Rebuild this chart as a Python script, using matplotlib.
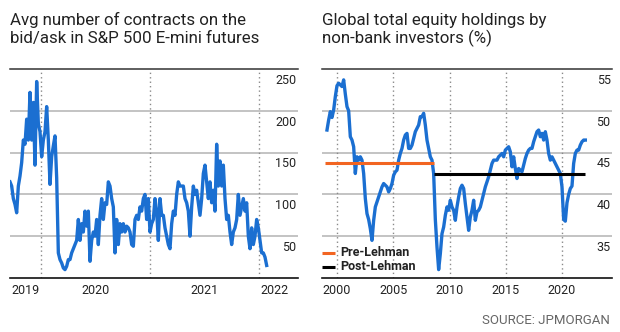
import matplotlib
matplotlib.use("Agg")
import matplotlib.pyplot as plt
import numpy as np
import pandas as pd

# ---- data ----
contracts_start = "2019-09-19"
contracts_end = "2022-01-26"
contracts = [115, 110, 95, 88, 78, 110, 122, 138, 165, 160, 190, 165, 222, 165, 210, 135,
             235, 185, 175, 145, 165, 175, 205, 165, 112, 145, 158, 170, 120, 30, 22, 18,
             12, 10, 14, 22, 22, 30, 35, 40, 45, 70, 45, 65, 55, 80, 62, 80, 20, 45, 55, 50,
             70, 40, 75, 95, 70, 90, 88, 115, 110, 95, 85, 30, 70, 40, 65, 55, 65, 55, 62,
             60, 55, 40, 38, 70, 75, 70, 85, 80, 95, 100, 70, 95, 55, 65, 70, 95, 80, 45, 95,
             75, 75, 60, 50, 40, 35, 65, 80, 75, 100, 115, 110, 110, 110, 95, 90, 80, 50, 85,
             110, 100, 105, 90, 75, 95, 125, 135, 115, 95, 115, 90, 105, 80, 160, 110, 140,
             110, 135, 95, 70, 75, 55, 40, 55, 60, 70, 100, 75, 85, 95, 80, 90, 50, 35, 60,
             40, 50, 70, 60, 45, 30, 30, 25, 15]
contracts_ticks = [50, 100, 150, 200, 250]

equity_start = "1999-02-10"
equity_end = "2022-01-26"
equity = [47.7, 48.9, 49.9, 49.2, 50.1, 51.7, 53.0, 53.3, 53.1, 52.9, 53.7, 52.0, 50.5, 50.0,
          46.9, 46.5, 45.7, 42.5, 44.5, 44.1, 44.5, 44.1, 42.5, 39.5, 37.7, 37.0, 35.9, 34.5,
          36.9, 38.5, 39.1, 39.7, 40.3, 40.9, 41.3, 41.1, 40.9, 40.3, 40.7, 41.3, 42.3, 42.7,
          42.9, 44.1, 44.9, 45.5, 46.5, 47.1, 47.3, 45.5, 45.5, 45.9, 46.7, 47.5, 47.9, 48.3,
          49.3, 49.3, 49.7, 48.3, 46.5, 45.5, 44.5, 44.1, 42.5, 37.0, 33.7, 31.0, 32.9, 35.3,
          36.1, 37.5, 38.5, 38.1, 39.3, 38.5, 38.1, 36.9, 38.5, 39.7, 40.7, 41.1, 40.7, 38.9,
          37.3, 35.7, 37.3, 38.1, 39.3, 36.9, 37.9, 38.1, 38.5, 39.3, 40.1, 40.9, 41.5, 42.1,
          42.9, 43.7, 44.1, 44.1, 44.1, 44.5, 44.7, 44.9, 44.5, 45.3, 45.5, 45.7, 45.1, 43.3,
          44.5, 43.1, 41.9, 43.1, 42.9, 42.7, 43.5, 44.3, 44.9, 45.3, 45.5, 45.5, 46.3, 46.9,
          47.5, 47.7, 46.9, 47.3, 46.5, 47.5, 46.5, 44.9, 44.1, 44.5, 44.1, 43.7, 43.3, 42.9,
          42.5, 40.9, 37.0, 36.8, 39.0, 40.0, 40.7, 41.0, 43.7, 44.9, 45.3, 45.3, 45.9, 46.3,
          46.5, 46.5]
equity_ticks = [35, 40, 45, 50, 55]

lehman_start = "1998-12-15"
lehman_date = "2008-08-04"
pre_lehman = 43.8
post_lehman = 42.4

# ---- styling ----
BLUE = "#1b6fd1"
ORANGE = "#f26522"
GRID = "#b3b3b3"
TITLE_FONT = ["Roboto", "DejaVu Sans"]
TICK_FONT = ["Roboto", "DejaVu Sans"]

W, H = 620, 332
fig = plt.figure(figsize=(W / 100, H / 100), dpi=100)


def px_axes(x0, y0, x1, y1):
    return fig.add_axes([x0 / W, 1 - y1 / H, (x1 - x0) / W, (y1 - y0) / H])


def style_axes(ax, ymin, ymax, ticks):
    ax.set_ylim(ymin, ymax)
    for s in ["left", "right"]:
        ax.spines[s].set_visible(False)
    ax.spines["top"].set_color("#333333")
    ax.spines["top"].set_linewidth(1.1)
    ax.spines["bottom"].set_color("#111111")
    ax.spines["bottom"].set_linewidth(1.2)
    ax.set_xticks([])
    ax.set_yticks([])
    for t in ticks:
        if t < ymax:
            ax.axhline(t, color=GRID, lw=1.1, zorder=1)
        ax.annotate(str(t), xy=(1, t), xycoords=("axes fraction", "data"),
                    xytext=(-1, -3.5), textcoords="offset points", ha="right", va="top",
                    fontsize=9, family=TICK_FONT, color="#222222")


def xlabel(ax, x, s, ha="center"):
    ax.annotate(s, xy=(x, 0), xycoords=("data", "axes fraction"), xytext=(0, -4),
                textcoords="offset points", ha=ha, va="top", fontsize=9,
                family=TICK_FONT, color="#222222")


# ---- left panel ----
ax1 = px_axes(10, 69, 298, 278)
style_axes(ax1, 0, 250, contracts_ticks)
d1 = pd.date_range(contracts_start, contracts_end, periods=len(contracts))
ax1.set_xlim(pd.Timestamp("2019-09-19"), pd.Timestamp("2022-05-11"))
for yr in [2020, 2021, 2022]:
    ax1.axvline(pd.Timestamp(f"{yr}-01-01"), color="#8a8a8a", lw=1, ls=(0, (1, 2.2)), zorder=1)
ax1.plot(d1, contracts, color=BLUE, lw=2.4, zorder=3, solid_joinstyle="round")
xlabel(ax1, pd.Timestamp("2019-12-28"), "2019", ha="right")
xlabel(ax1, pd.Timestamp("2020-07-02"), "2020")
xlabel(ax1, pd.Timestamp("2021-07-02"), "2021")
xlabel(ax1, pd.Timestamp("2022-01-04"), "2022", ha="left")

# ---- right panel ----
ax2 = px_axes(322, 69, 612, 278)
style_axes(ax2, 30, 55, equity_ticks)
d2 = pd.date_range(equity_start, equity_end, periods=len(equity))
ax2.set_xlim(pd.Timestamp("1998-09-01"), pd.Timestamp("2024-06-10"))
for yr in [2000, 2005, 2010, 2015, 2020]:
    ax2.axvline(pd.Timestamp(f"{yr}-01-01"), color="#8a8a8a", lw=1, ls=(0, (1, 2.2)), zorder=1)
    xlabel(ax2, pd.Timestamp(f"{yr}-01-01"), str(yr))
ax2.plot(d2, equity, color=BLUE, lw=2.4, zorder=3, solid_joinstyle="round")
ax2.plot([pd.Timestamp(lehman_start), pd.Timestamp(lehman_date)], [pre_lehman, pre_lehman],
         color=ORANGE, lw=2.2, zorder=4, solid_capstyle="butt")
ax2.plot([pd.Timestamp(lehman_date), pd.Timestamp(equity_end)], [post_lehman, post_lehman],
         color="black", lw=2.2, zorder=4, solid_capstyle="butt")

# legend
for y, c, lab in [(252.7, ORANGE, "Pre-Lehman"), (266.7, "black", "Post-Lehman")]:
    fig.add_artist(plt.Line2D([322 / W, 335 / W], [1 - y / H, 1 - y / H], color=c, lw=2.2,
                              solid_capstyle="butt"))
    fig.text(340 / W, 1 - y / H, lab, ha="left", va="center", fontsize=9,
             fontweight="bold", family=TICK_FONT, color="#222222")

# titles
titles = [(10, ["Avg number of contracts on the", "bid/ask in S&P 500 E-mini futures"]),
          (322, ["Global total equity holdings by", "non-bank investors (%)"])]
for x, lines in titles:
    fig.text(x / W, 1 - 25 / H, lines[0], ha="left", va="baseline", fontsize=12.2,
             family=TITLE_FONT, color="#222222")
    fig.text(x / W, 1 - 43.5 / H, lines[1], ha="left", va="baseline", fontsize=12.2,
             family=TITLE_FONT, color="#222222")

fig.text(610 / W, 1 - 320 / H, "SOURCE: JPMORGAN", ha="right", va="center", fontsize=9.5,
         family=TITLE_FONT, color="#666666")

fig.savefig("out.png", dpi=100)
